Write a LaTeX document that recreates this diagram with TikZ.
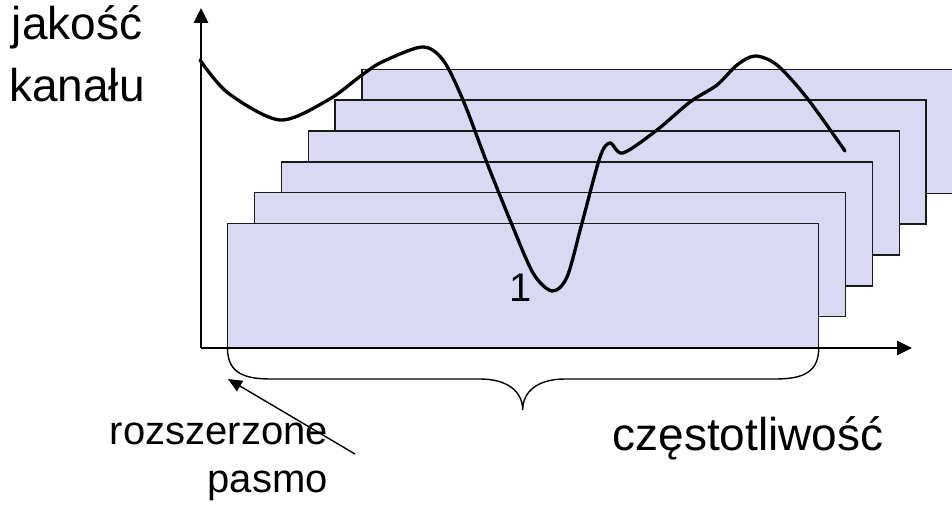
\documentclass[tikz,border=0pt]{standalone}
\usepackage{fontspec}
\setmainfont{Liberation Sans}
\usepackage{xcolor}
\usepackage{tikz}
\usetikzlibrary{arrows.meta}
\definecolor{bandfill}{HTML}{D9D9F3}
\definecolor{bandline}{HTML}{1A1A1A}
\tikzset{
  band/.style={
    draw=bandline,
    line width=1.3pt,
    fill=bandfill,
    inner sep=0pt,
    minimum width=591pt,
    minimum height=124pt
  },
  axis/.style={line width=2.9pt, draw=black, -{Triangle[length=15pt,width=14pt]}},
  quality/.style={line width=3.3pt, draw=black, line join=round, line cap=round},
  bracket/.style={line width=1.4pt, draw=black},
  pointer/.style={line width=1.4pt, draw=black, -{Triangle[length=14pt,width=12pt]}},
  biglabel/.style={font=\fontsize{46}{62}\selectfont, inner sep=0pt, align=center},
  smalllabel/.style={font=\fontsize{40}{48}\selectfont, inner sep=0pt}
}

\begin{document}
\begin{tikzpicture}[x=1pt,y=-1pt]
\path[use as bounding box] (0,0) rectangle (952,505);
\fill[white] (0,0) rectangle (952,505);

% stacked sub-bands, back to front
\node[band] (band6) at (657.5,131.2) {};
\node[band] (band5) at (630.6,162.1) {};
\node[band] (band4) at (603.7,193.0) {};
\node[band] (band3) at (576.8,223.9) {};
\node[band] (band2) at (549.9,254.8) {};
\node[band] (band1) at (523.0,285.7) {};
\node[smalllabel, anchor=base] (bandno) at (521,301) {1};

% axes
\coordinate (origin) at (201,348);
\coordinate (ytip) at (201,8);
\coordinate (xtip) at (912,348);
\draw[axis] (origin) -- (ytip);
\draw[axis] (origin) -- (xtip);

% channel quality curve
\draw[quality] plot[smooth] coordinates {
  (200,60) (228,93) (280,120) (328,100) (362,75) (382,62) (422,47)
  (443,60) (463,100) (487,163) (510,220) (533,273) (552,291) (567,277)
  (582,223) (600,157) (610,143) (623,153) (657,130) (690,102) (717,85)
  (737,65) (755,56) (777,65) (807,98) (845,151)};

% brace under the front band
\draw[bracket] (227.5,348) .. controls (227.5,370) and (240,379) .. (270,379)
  -- (480,379) .. controls (508,379) and (522.7,392) .. (522.7,410)
  .. controls (522.7,392) and (537,379) .. (565,379)
  -- (776,379) .. controls (806,379) and (818.7,370) .. (818.7,348);

% labels
\node[biglabel, anchor=south] (quality) at (77,102) {jakość\\kanału};
\node[biglabel, anchor=base] (freq) at (748,450) {częstotliwość};
\node[smalllabel, align=right, anchor=south east] (wideband) at (328,501) {rozszerzone\\pasmo};

\coordinate (pointerfoot) at (355,454);
\coordinate (bandedge) at (228,379);
\draw[pointer] (pointerfoot) -- (bandedge);

\end{tikzpicture}
\end{document}
